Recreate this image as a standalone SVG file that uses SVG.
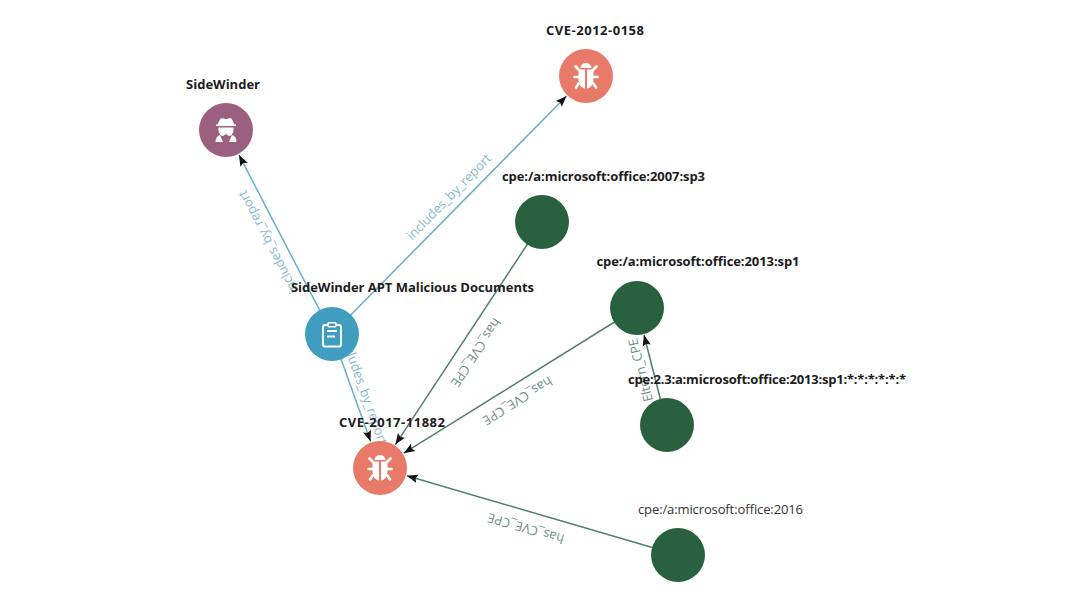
<svg xmlns="http://www.w3.org/2000/svg" xmlns:xlink="http://www.w3.org/1999/xlink" width="1080" height="602" viewBox="0 0 1080 602">
<style>
.nl{font-family:"Open Sans","Noto Sans","Liberation Sans",sans-serif;font-size:13px;font-weight:700;fill:#1c1c1c;text-anchor:middle}
.nr{font-weight:400;fill:#333}
.el{font-family:"Open Sans","Noto Sans","Liberation Sans",sans-serif;font-size:13px;text-anchor:middle}
.blue{stroke:#62afcb;stroke-width:1.5;fill:none}
.green{stroke:#4f8068;stroke-width:1.5;fill:none}
.tb{fill:#86b9d0}
.tg{fill:#6f8f85}
.cve{fill:#e77a68}
.cpe{fill:#29613f}
.ic{fill:#fff}
</style>
<defs>
<marker id="arr" markerUnits="userSpaceOnUse" markerWidth="12" markerHeight="10" refX="11" refY="5" orient="auto"><path d="M0 0.8L11 5L0 9.2L2 5Z" fill="#111"/></marker>
<g id="bug">
<path class="ic" d="M-5.500-8A5.500 5 0 0 1 5.500-8Z"/>
<path class="ic" d="M-7.500-6.500H-1V12.500C-5 12-7.500 8-7.500 3ZM7.500-6.500H1V12.500C5 12 7.500 8 7.500 3Z"/>
<path d="M-7-6L-10.500-9.500M7-6L10.500-9.500M-7 1H-11.500M7 1H11.500M-7 7L-10 11.500M7 7L10 11.500" stroke="#fff" stroke-width="2.600" stroke-linecap="round" fill="none"/>
</g>
</defs>
<rect width="1080" height="602" fill="#fff"/>
<g id="connectors">
<line class="blue" x1="332" y1="334" x2="239" y2="155" marker-end="url(#arr)"/>
<line class="blue" x1="332" y1="334" x2="566.500" y2="96" marker-end="url(#arr)"/>
<line class="blue" x1="332" y1="334" x2="370.600" y2="441.500" marker-end="url(#arr)"/>
<line class="green" x1="542" y1="222" x2="395.400" y2="444.600" marker-end="url(#arr)"/>
<line class="green" x1="637" y1="308" x2="403.800" y2="453.200" marker-end="url(#arr)"/>
<line class="green" x1="678" y1="555" x2="406.900" y2="475.800" marker-end="url(#arr)"/>
<line class="green" x1="667" y1="425" x2="644" y2="335" marker-end="url(#arr)"/>
<text class="el tb" transform="translate(272 240) rotate(242.500)">includes_by_report</text>
<text class="el tb" transform="translate(452 200) rotate(-45.500)">includes_by_report</text>
<text class="el tb" transform="translate(360 392) rotate(70.300)">includes_by_report</text>
<text class="el tg" transform="translate(472 350) rotate(123.400)">has_CVE_CPE</text>
<text class="el tg" transform="translate(515 397) rotate(148)">has_CVE_CPE</text>
<text class="el tg" transform="translate(527 524) rotate(196.300)">has_CVE_CPE</text>
<text class="el tg" transform="translate(645 369) rotate(-104.400)">Eltern_CPE</text>
</g>
<g id="node-sidewinder">
<circle cx="226" cy="130" r="27" fill="#9b5f80"/>
<path class="ic" d="M217.500 124.500L220 119.500C221 117.800 223 118.300 226 119.200C229 118.300 231 117.800 232 119.500L234.500 124.500H236V126H216V124.500Z"/>
<path class="ic" d="M218.500 127.500H233.500C234 132.500 232 136 228.800 136L226 134L223.200 136C220 136 218 132.500 218.500 127.500Z"/>
<path class="ic" d="M215.500 142C215.500 138.500 217 136 220 135L223 142ZM236.500 142C236.500 138.500 235 136 232 135L229 142Z"/>
<text class="nl" x="223" y="89" textLength="74">SideWinder</text>
</g>
<g id="node-cve-2012-0158">
<circle class="cve" cx="586" cy="76" r="27"/>
<use xlink:href="#bug" href="#bug" x="586" y="76"/>
<text class="nl" x="595" y="35" textLength="98">CVE-2012-0158</text>
</g>
<g id="node-cpe-2007">
<circle class="cpe" cx="542" cy="222" r="27"/>
<text class="nl" x="603.500" y="181" textLength="203">cpe:/a:microsoft:office:2007:sp3</text>
</g>
<g id="node-cpe-2013">
<circle class="cpe" cx="637" cy="308" r="27"/>
<text class="nl" x="698" y="266" textLength="203">cpe:/a:microsoft:office:2013:sp1</text>
</g>
<g id="node-cpe-23">
<circle class="cpe" cx="667" cy="425" r="27"/>
<text class="nl" x="767" y="384" textLength="278">cpe:2.3:a:microsoft:office:2013:sp1:*:*:*:*:*:*</text>
</g>
<g id="node-cpe-2016">
<circle class="cpe" cx="678" cy="555" r="27"/>
<text class="nl nr" x="720.500" y="514" textLength="165">cpe:/a:microsoft:office:2016</text>
</g>
<g id="node-report">
<circle cx="332" cy="334" r="27" fill="#419dbf"/>
<path d="M328 325H325A2 2 0 0 0 323 327V344.500A2 2 0 0 0 325 346.500H339A2 2 0 0 0 341 344.500V327A2 2 0 0 0 339 325H336" fill="none" stroke="#fff" stroke-width="1.800"/>
<rect x="328" y="322.800" width="8" height="4" rx="1" fill="none" stroke="#fff" stroke-width="1.500"/>
<path d="M327 331H337M327 336.500H335" stroke="#fff" stroke-width="1.800"/>
<text class="nl" x="412.500" y="292" textLength="243">SideWinder APT Malicious Documents</text>
</g>
<g id="node-cve-2017-11882">
<circle class="cve" cx="380" cy="468" r="27"/>
<use xlink:href="#bug" href="#bug" x="380" y="468"/>
<text class="nl" x="392" y="427" textLength="106">CVE-2017-11882</text>
</g>
</svg>
